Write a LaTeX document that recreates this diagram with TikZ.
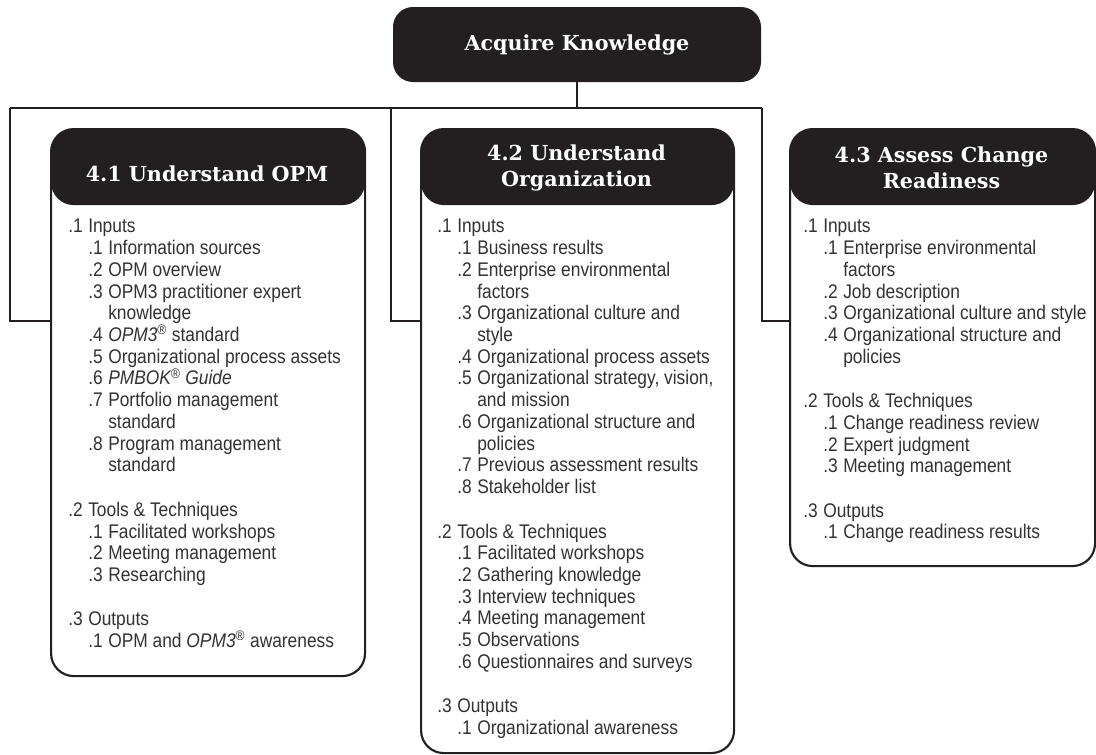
\documentclass[tikz,border=0pt]{standalone}
\usepackage{fontspec}
\setmainfont{Liberation Sans}[FakeStretch=0.88]
\newfontfamily\slab{DejaVu Serif}
\definecolor{ink}{RGB}{35,31,32}

% list lines: section number, item number, wrapped item text
\newcommand\secline[2]{\makebox[15pt][l]{#1}#2}
\newcommand\subline[2]{\hspace*{15pt}\makebox[15pt][l]{#1}#2}
\newcommand\wrapline[1]{\hspace*{30pt}#1}

\tikzset{
  topbox/.style={fill=ink, rounded corners=15pt, minimum width=276pt, minimum height=56.25pt,
    text=white, font=\slab\bfseries\fontsize{15.5}{19.5}\selectfont},
  stagebox/.style={draw=ink, line width=1.6pt, fill=white, rounded corners=17pt, anchor=north west,
    path picture={\fill[ink] (path picture bounding box.north west) rectangle ([yshift=-57pt]path picture bounding box.north east);}},
  headtext/.style={text=white, font=\slab\bfseries\fontsize{15.5}{19.5}\selectfont, align=center},
  itemtext/.style={text=ink!92, font=\fontsize{14.8}{16.3}\selectfont, align=left, anchor=north west},
  link/.style={draw=ink, line width=1.4pt}
}

\begin{document}
\begin{tikzpicture}[x=0.75pt, y=-0.75pt, every node/.style={inner sep=0pt}]
    \useasboundingbox (0,0) rectangle (1096,754);

    % root
    \node[topbox] (acq) at (577,44.5) {Acquire Knowledge};

    % the three process boxes
    \node[stagebox, minimum width=235.5pt, minimum height=410.25pt] (opm) at (50,128) {};
    \node[stagebox, minimum width=234.75pt, minimum height=468pt] (org) at (420,128) {};
    \node[stagebox, minimum width=228.75pt, minimum height=327.75pt] (chg) at (789,128) {};

    \node[headtext] (opmhead) at (207,174) {4.1 Understand OPM};
    \node[headtext] (orghead) at (576.5,168) {4.2 Understand\\Organization};
    \node[headtext] (chghead) at (941.5,168) {4.3 Assess Change\\Readiness};

    % connectors
    \coordinate (busL) at (10,108);
    \coordinate (busM) at (391,108);
    \coordinate (busR) at (762,108);
    \coordinate (tap) at (0,321);
    \draw[link] (acq.south) -- (acq.south |- busL);
    \draw[link] (busL) -- (busR);
    \draw[link] (busL) |- (opm.west |- tap);
    \draw[link] (busM) |- (org.west |- tap);
    \draw[link] (busR) |- (chg.west |- tap);

    \node[itemtext] (opmlist) at (68,219) {%
        \secline{.1}{Inputs}\\
        \subline{.1}{Information sources}\\
        \subline{.2}{OPM overview}\\
        \subline{.3}{OPM3 practitioner expert}\\
        \wrapline{knowledge}\\
        \subline{.4}{\textit{OPM3}\textsuperscript{®} standard}\\
        \subline{.5}{Organizational process assets}\\
        \subline{.6}{\textit{PMBOK\textsuperscript{®} Guide}}\\
        \subline{.7}{Portfolio management}\\
        \wrapline{standard}\\
        \subline{.8}{Program management}\\
        \wrapline{standard}\\[17pt]
        \secline{.2}{Tools \& Techniques}\\
        \subline{.1}{Facilitated workshops}\\
        \subline{.2}{Meeting management}\\
        \subline{.3}{Researching}\\[17pt]
        \secline{.3}{Outputs}\\
        \subline{.1}{OPM and \textit{OPM3}\textsuperscript{®} awareness}};

    \node[itemtext] (orglist) at (437,219) {%
        \secline{.1}{Inputs}\\
        \subline{.1}{Business results}\\
        \subline{.2}{Enterprise environmental}\\
        \wrapline{factors}\\
        \subline{.3}{Organizational culture and}\\
        \wrapline{style}\\
        \subline{.4}{Organizational process assets}\\
        \subline{.5}{Organizational strategy, vision,}\\
        \wrapline{and mission}\\
        \subline{.6}{Organizational structure and}\\
        \wrapline{policies}\\
        \subline{.7}{Previous assessment results}\\
        \subline{.8}{Stakeholder list}\\[17pt]
        \secline{.2}{Tools \& Techniques}\\
        \subline{.1}{Facilitated workshops}\\
        \subline{.2}{Gathering knowledge}\\
        \subline{.3}{Interview techniques}\\
        \subline{.4}{Meeting management}\\
        \subline{.5}{Observations}\\
        \subline{.6}{Questionnaires and surveys}\\[17pt]
        \secline{.3}{Outputs}\\
        \subline{.1}{Organizational awareness}};

    \node[itemtext] (chglist) at (803,219) {%
        \secline{.1}{Inputs}\\
        \subline{.1}{Enterprise environmental}\\
        \wrapline{factors}\\
        \subline{.2}{Job description}\\
        \subline{.3}{Organizational culture and style}\\
        \subline{.4}{Organizational structure and}\\
        \wrapline{policies}\\[17pt]
        \secline{.2}{Tools \& Techniques}\\
        \subline{.1}{Change readiness review}\\
        \subline{.2}{Expert judgment}\\
        \subline{.3}{Meeting management}\\[17pt]
        \secline{.3}{Outputs}\\
        \subline{.1}{Change readiness results}};

\end{tikzpicture}
\end{document}
